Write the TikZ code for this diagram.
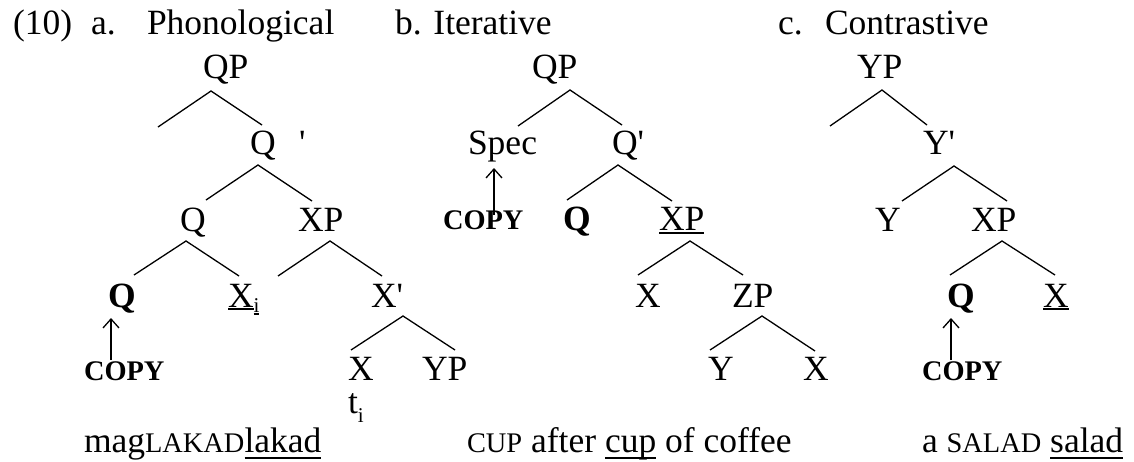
\documentclass[tikz,border=0pt]{standalone}
\usepackage{fontspec}
\setmainfont{Liberation Serif}[Ligatures=TeXOff]
\usetikzlibrary{arrows.meta,calc}
\newsavebox\myulbox
\newcommand\myul[2]{\sbox\myulbox{#2}\rlap{\rule[-#1]{\wd\myulbox}{1.8pt}}\usebox\myulbox}
\newcommand\mysc[1]{{\fontsize{28.4}{30}\selectfont #1}}
\newcommand\subfont{\fontsize{21}{22}\selectfont}
\begin{document}
\begin{tikzpicture}[x=1pt,y=-1pt,
  every node/.style={inner sep=0pt,outer sep=0pt,anchor=base west,font=\fontsize{35.5}{40}\selectfont},
  edge/.style={line width=1.3pt},
  arr/.style={line width=1.3pt,-{Straight Barb[length=9pt,width=16pt,line width=1.3pt]}},
  bnode/.style={font=\fontsize{35.5}{40}\selectfont\bfseries},
  copynode/.style={font=\fontsize{28.4}{30}\selectfont\bfseries}]
\useasboundingbox (0,0) rectangle (1134,461);
% titles
\node (t10) at (13,34) {(10)};
\node (ta) at (91,34) {a.};
\node (tPhon) at (147,34) {Phonological};
\node (tb) at (395,34) {b. Iterative};
\node (tc) at (778,34) {c.};
\node (tCon) at (825,34) {Contrastive};
% tree a
\node (aQP) at (203,78) {QP};
\node (aQ1) at (250,154) {Q\hspace{23.5pt}'};
\node (aQ2) at (180,231) {Q};
\node (aXP) at (298,231) {XP};
\node[bnode] (aQb) at (108,307) {Q};
\node (aXi) at (228,307) {\myul{3pt}{X}\raisebox{-5pt}{\myul{3pt}{\subfont i}}};
\node (aXbar) at (371,307) {X'};
\node (aX) at (348,380) {X};
\node (aYP) at (422,380) {YP};
\node (at) at (348,413) {t\raisebox{-9pt}{\subfont i}};
\node[copynode] (aCOPY) at (84,380) {COPY};
\node (aBot) at (84,452) {mag\mysc{LAKAD}\myul{7pt}{lakad}};
\coordinate (aE1) at (158,127);
\coordinate (aE2) at (278,276);
\draw[edge] (aE1) -- ($(aQP.base west)+(8,13)$) -- ($(aQ1.base west)+(12,-29)$);
\draw[edge] ($(aQ2.base west)+(26,-31)$) -- ($(aQ1.base west)+(8,11)$) -- ($(aXP.base west)+(14,-30)$);
\draw[edge] ($(aQb.base west)+(26,-32)$) -- ($(aQ2.base west)+(6,10)$) -- ($(aXi.base west)+(11,-31)$);
\draw[edge] (aE2) -- ($(aXP.base west)+(32,10)$) -- ($(aXbar.base west)+(11,-31)$);
\draw[edge] ($(aX.base west)+(3,-30)$) -- ($(aXbar.base west)+(32,9)$) -- ($(aYP.base west)+(33,-30)$);
\draw[arr] ($(aCOPY.base west)+(27,-20)$) -- ($(aQb.base west)+(3,11)$);
% tree b
\node (bQP) at (532,78) {QP};
\node (bSpec) at (468,154) {Spec};
\node (bQ1) at (612,154) {Q'};
\node[copynode] (bCOPY) at (443,229) {COPY};
\node[bnode] (bQb) at (563,230) {Q};
\node (bXP) at (659,230) {\myul{4pt}{XP}};
\node (bX) at (635,307) {X};
\node (bZP) at (732,307) {ZP};
\node (bY) at (708,380) {Y};
\node (bX2) at (803,380) {X};
\node (bBot) at (467,452) {\mysc{CUP} after \myul{7pt}{cup} of coffee};
\draw[edge] ($(bSpec.base west)+(50,-28)$) -- ($(bQP.base west)+(38,12)$) -- ($(bQ1.base west)+(10,-29)$);
\draw[edge] ($(bQb.base west)+(4,-30)$) -- ($(bQ1.base west)+(6,11)$) -- ($(bXP.base west)+(13,-29)$);
\draw[edge] ($(bX.base west)+(3,-32)$) -- ($(bXP.base west)+(31,11)$) -- ($(bZP.base west)+(11,-32)$);
\draw[edge] ($(bY.base west)+(2,-30)$) -- ($(bZP.base west)+(30,9)$) -- ($(bX2.base west)+(12,-29)$);
\draw[arr] ($(bCOPY.base west)+(51,-14)$) -- ($(bSpec.base west)+(26,14)$);
% tree c
\node (cYP) at (857,78) {YP};
\node (cY1) at (923,154) {Y'};
\node (cY) at (875,231) {Y};
\node (cXP) at (971,231) {XP};
\node[bnode] (cQb) at (947,307) {Q};
\node (cX) at (1043,307) {\myul{3pt}{X}};
\node[copynode] (cCOPY) at (922,380) {COPY};
\node (cBot) at (922,452) {a \mysc{SALAD} \myul{7pt}{salad}};
\coordinate (cE1) at (830,126);
\draw[edge] (cE1) -- ($(cYP.base west)+(25,12)$) -- ($(cY1.base west)+(4,-29)$);
\draw[edge] ($(cY.base west)+(27,-30)$) -- ($(cY1.base west)+(31,12)$) -- ($(cXP.base west)+(36,-30)$);
\draw[edge] ($(cQb.base west)+(3,-32)$) -- ($(cXP.base west)+(31,10)$) -- ($(cX.base west)+(12,-32)$);
\draw[arr] ($(cCOPY.base west)+(29,-20)$) -- ($(cQb.base west)+(4,11)$);
\end{tikzpicture}
\end{document}
